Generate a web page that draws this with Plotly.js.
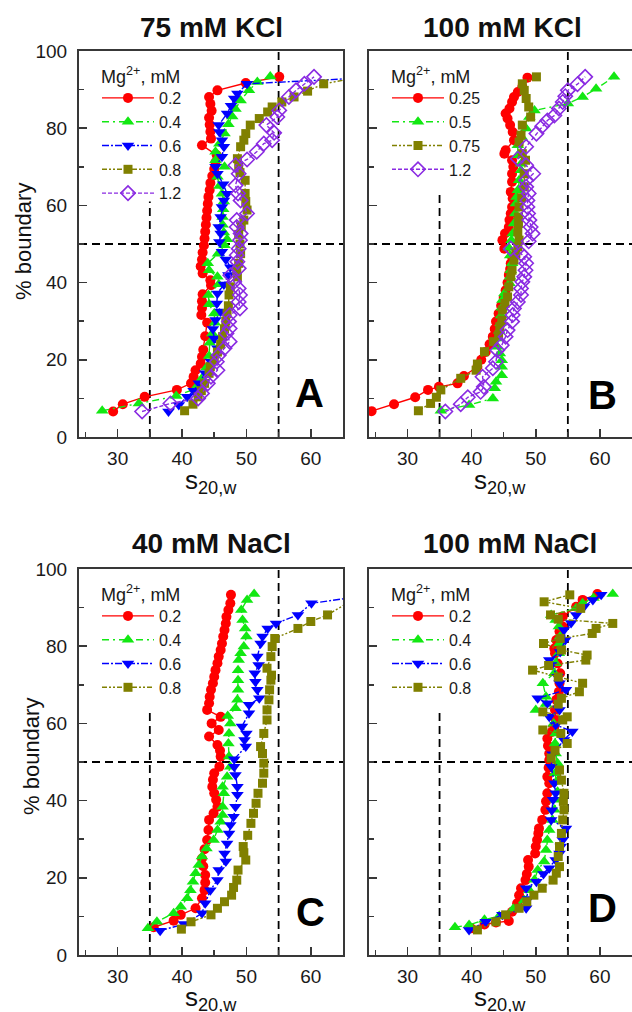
<!DOCTYPE html>
<html>
<head>
<meta charset="utf-8">
<script src="https://cdn.plot.ly/plotly-3.0.1.min.js"></script>
<style>html,body{margin:0;padding:0;background:#fff;}#chart{width:632px;height:1012px;}</style>
</head>
<body>
<div id="chart"></div>
<script>
// ---------- Panel A: 75 mM KCl ----------
const A_labels = ['0.2', '0.4', '0.6', '0.8', '1.2'];
const A_x_02 = [29.3,30.8,34.2,39.2,41.4,41.8,42.1,42.9,43.1,43.3,43.6,43.9,43.0,43.1,43.1,43.2,44.5,44.4,43.2,42.9,43.1,43.2,43.4,43.5,43.6,43.7,43.8,43.9,44.0,44.1,44.3,44.4,44.7,45.0,45.2,45.4,43.1,44.5,44.4,44.3,44.2,44.6,44.4,44.2,45.5,49.9,55.1];
const A_y_02 = [6.6,8.5,10.4,12.2,13.9,15.6,17.3,19.0,20.8,22.6,26.1,29.6,31.6,33.4,35.2,37.0,39.3,40.6,42.4,44.2,46.0,47.8,49.6,51.4,53.2,55.0,56.8,58.6,60.4,62.2,64.0,65.8,67.6,69.4,71.2,73.0,75.6,77.3,79.1,80.9,82.7,84.5,86.3,88.1,89.8,91.7,93.3];
const A_x_04 = [27.6,33.3,39.1,42.0,43.0,43.8,44.2,44.3,44.7,45.1,45.0,44.2,44.1,45.7,45.5,44.2,44.0,45.6,46.6,47.0,46.5,46.3,46.3,46.4,46.5,46.2,45.8,45.5,46.6,45.2,45.2,45.8,46.6,47.2,47.8,48.3,49.1,50.4,51.7,53.7];
const A_y_04 = [6.8,8.7,10.6,12.5,15.0,18.0,21.0,24.4,26.8,29.6,32.0,34.4,36.8,39.6,41.5,43.2,45.0,47.5,49.7,51.2,53.0,55.0,57.0,59.0,61.0,63.0,65.0,67.4,70.0,71.7,73.9,76.0,78.6,81.0,83.0,85.0,87.2,89.8,92.0,93.4];
const A_x_06 = [37.9,39.5,40.8,41.8,42.6,43.6,44.5,45.5,45.0,44.8,45.2,46.0,45.4,45.5,46.5,47.2,47.5,46.8,46.2,45.8,46.0,45.7,46.0,46.2,46.5,47.0,46.4,45.5,45.2,46.2,46.5,46.2,45.8,45.7,47.0,47.6,48.1,48.6,50.1,68.0];
const A_y_06 = [6.6,8.3,10.4,12.0,13.9,16.5,19.5,23.0,25.5,28.0,30.3,32.5,34.6,37.2,39.5,42.0,44.0,46.0,48.0,50.5,52.7,54.4,57.0,59.6,61.3,63.0,65.5,68.2,70.0,72.6,75.2,76.9,79.0,80.8,83.8,85.8,87.7,89.0,91.5,93.0];
const A_x_08 = [40.4,41.7,42.5,43.0,43.5,44.2,44.4,45.0,45.5,46.0,46.3,46.6,46.8,47.0,47.2,47.3,47.5,48.6,48.5,48.8,49.1,49.0,48.8,49.2,49.6,50.1,49.9,49.8,49.8,49.0,48.8,48.6,49.1,49.6,49.9,50.6,52.0,53.3,54.0,55.5,57.4,59.5,62.0,67.0];
const A_y_08 = [6.8,8.5,10.4,12.0,13.9,16.5,18.2,20.0,22.0,24.0,26.0,28.0,30.0,32.0,34.0,36.8,38.9,41.5,43.2,45.0,47.5,50.0,52.5,54.5,56.2,58.8,61.0,63.1,66.5,68.5,70.0,72.1,75.2,76.9,78.6,80.8,82.5,84.2,85.5,86.8,88.1,89.6,91.5,93.0];
const A_x_12 = [33.8,38.2,42.5,43.1,44.0,44.5,45.5,45.4,45.7,46.6,47.4,46.9,47.4,47.3,47.4,49.0,48.8,49.0,48.8,48.1,47.5,48.8,48.6,48.5,48.8,49.0,49.1,48.5,48.5,50.1,49.1,48.7,48.3,48.8,48.3,50.1,51.6,52.7,54.0,54.3,53.1,54.8,55.1,56.6,57.7,59.0,60.5];
const A_y_12 = [6.6,8.7,10.0,11.3,13.9,15.6,17.3,19.5,21.2,23.0,24.7,26.8,28.1,29.9,31.6,33.3,35.0,36.8,38.5,40.2,41.9,43.7,45.4,47.1,48.8,51.0,52.7,54.4,56.2,57.9,61.3,63.1,65.2,68.2,70.4,71.9,73.9,76.0,76.9,78.8,80.8,82.9,84.6,88.1,89.8,91.5,93.3];

// ---------- Panel B: 100 mM KCl ----------
const B_labels = ['0.25', '0.5', '0.75', '1.2'];
const B_x_025 = [24.4,27.9,31.2,33.2,34.9,37.8,38.8,40.9,41.5,42.2,42.8,43.3,43.6,43.8,44.2,44.6,45.0,45.3,45.6,45.8,46.0,46.1,46.3,45.1,44.8,45.2,45.8,45.9,46.1,46.3,46.4,46.1,46.3,46.3,46.5,46.3,45.1,45.3,46.6,46.4,46.0,45.6,45.3,45.9,46.3,46.6,47.2,47.9,48.7];
const B_y_025 = [6.7,8.5,10.3,12.2,13.0,13.9,15.8,18.2,20.0,22.0,24.0,26.0,28.0,29.9,32.0,34.0,36.0,38.0,40.0,42.0,43.5,45.0,46.7,48.8,51.0,52.7,54.4,56.2,57.9,59.6,61.8,63.5,66.1,68.2,70.0,71.7,73.4,74.3,76.9,79.0,80.8,82.5,83.8,85.1,86.8,88.1,89.4,90.7,93.1];
const B_x_05 = [35.2,39.6,43.3,43.6,43.8,44.7,44.7,44.7,44.4,44.0,44.2,44.3,44.5,44.6,44.7,44.8,45.1,45.9,46.0,46.1,46.3,46.0,45.8,46.2,46.4,46.6,46.8,46.9,47.0,47.2,47.4,47.7,47.7,47.2,47.2,47.8,48.5,49.0,49.8,55.0,57.3,59.4,62.2];
const B_y_05 = [6.8,8.3,10.0,12.6,14.3,16.0,18.2,19.9,21.6,23.4,25.5,27.5,29.5,31.5,33.5,35.5,37.2,39.8,41.5,43.2,45.0,47.0,49.0,51.0,52.7,55.3,57.9,60.5,62.2,63.9,66.5,69.1,70.8,73.0,75.6,77.7,79.9,82.9,84.6,86.4,88.1,90.2,93.3];
const B_x_075 = [31.7,33.6,34.5,35.2,38.3,40.7,40.9,42.0,43.4,44.2,44.4,44.7,44.8,45.2,45.6,45.8,46.1,46.3,46.6,46.9,47.2,47.4,47.2,47.3,47.3,47.4,47.8,48.2,48.2,48.4,47.9,47.4,47.7,47.9,49.2,48.9,48.5,48.2,47.9,50.1];
const B_y_075 = [6.8,8.7,10.3,12.2,15.2,17.3,18.9,22.1,24.7,26.4,28.6,30.3,32.9,34.6,36.3,38.9,41.5,43.2,45.8,47.5,49.3,51.0,53.1,55.3,57.0,59.6,62.0,64.8,68.2,71.7,73.4,76.4,78.2,80.8,82.9,85.5,87.7,89.8,91.5,93.3];
const B_x_12 = [35.9,38.3,39.4,41.4,41.9,41.7,43.3,43.8,44.0,44.7,45.3,45.6,46.3,46.4,46.6,47.2,47.7,47.7,47.9,48.2,48.4,48.5,48.2,47.7,46.1,48.9,49.5,49.2,49.0,48.8,48.7,48.7,48.9,48.5,48.5,49.6,48.5,47.2,48.5,50.1,51.0,51.8,52.9,53.6,54.2,54.6,55.0,56.5,57.7];
const B_y_12 = [6.6,8.5,10.3,11.7,13.0,15.6,17.8,19.5,22.5,23.8,26.0,27.7,29.9,31.6,33.3,35.0,36.8,38.5,40.2,41.5,43.2,45.0,46.7,47.5,48.8,50.7,52.7,54.4,56.2,57.9,59.6,61.3,63.1,64.8,66.5,68.2,70.4,72.1,75.2,78.6,80.5,82.0,83.3,85.1,86.8,88.3,89.8,91.4,93.3];

// ---------- Panel C: 40 mM NaCl ----------
const C_labels = ['0.2', '0.4', '0.6', '0.8'];
const C_x_02 = [35.6,38.7,39.8,42.1,43.1,43.5,43.6,43.6,43.3,43.1,43.5,43.9,44.1,44.2,44.9,45.5,45.3,45.0,44.7,44.8,45.0,45.8,46.0,45.9,45.5,44.2,45.7,44.6,46.0,43.9,44.2,44.3,44.5,44.8,45.0,45.2,45.5,45.7,46.0,46.2,46.4,46.6,46.8,46.9,47.2,47.5,47.6];
const C_y_02 = [7.2,8.9,10.4,12.1,14.7,16.8,18.8,20.7,23.0,25.0,27.4,29.8,32.4,35.0,36.7,38.4,40.2,41.9,43.6,45.4,47.1,48.8,51.4,53.0,54.4,56.6,58.3,60.0,61.7,63.5,65.2,66.9,68.7,70.4,72.1,73.8,75.6,77.3,79.0,80.7,82.5,84.2,85.9,87.6,89.4,91.1,93.3];
const C_x_04 = [34.7,36.1,38.7,39.8,40.8,41.3,41.7,42.1,42.6,43.1,43.8,44.9,45.5,46.0,46.3,46.3,46.5,46.3,47.0,47.5,47.3,47.2,47.3,47.5,47.1,48.3,48.6,48.7,48.7,48.7,48.8,49.1,49.6,50.0,49.8,49.4,49.2,50.1,51.2];
const C_y_04 = [6.9,8.6,10.8,12.5,14.7,16.8,19.0,21.2,23.3,25.5,27.6,29.8,32.4,34.5,36.3,38.4,41.9,43.6,46.2,48.8,51.4,54.8,57.4,60.0,61.9,63.9,66.1,68.7,71.2,73.8,76.4,78.2,79.9,82.5,84.6,86.8,89.4,92.0,93.5];
const C_x_06 = [36.6,40.3,43.1,43.6,44.4,45.5,45.7,46.8,46.6,47.0,47.3,47.5,48.0,48.3,48.6,48.6,48.3,48.1,48.1,49.9,49.7,50.0,49.3,50.4,50.4,52.0,51.7,51.4,51.3,51.9,51.7,52.2,52.5,53.3,54.6,58.0,60.1,66.0];
const C_y_06 = [6.3,8.0,10.8,13.4,16.8,19.4,22.0,24.2,26.3,28.9,31.5,33.7,35.8,38.4,41.5,43.6,46.6,48.8,50.7,54.0,55.7,57.4,59.2,62.6,64.8,66.5,68.7,70.8,73.0,75.1,77.3,80.7,82.5,84.6,85.9,88.1,91.1,92.5];
const C_x_08 = [39.9,41.4,44.5,45.5,46.6,47.7,48.0,48.5,48.7,49.9,49.6,49.5,50.2,50.7,51.1,51.5,51.8,52.5,52.7,52.7,52.5,52.2,52.7,53.2,53.2,53.5,53.6,53.8,53.9,53.2,53.8,54.0,54.4,58.0,60.0,62.6,66.0];
const C_y_08 = [6.7,8.6,10.4,12.1,13.8,15.5,17.5,19.4,22.0,24.6,26.5,28.1,31.0,34.1,36.7,39.3,41.9,44.5,47.1,49.7,52.2,54.0,57.4,60.9,63.5,66.1,68.7,71.2,72.5,74.3,77.3,79.9,82.0,84.6,86.4,88.1,91.5];

// ---------- Panel D: 100 mM NaCl ----------
const D_labels = ['0.2', '0.4', '0.6', '0.8'];
const D_x_02 = [39.9,42.0,43.8,45.8,46.3,47.1,47.4,47.7,48.4,48.6,48.9,48.8,49.9,50.0,50.2,50.4,50.5,51.0,51.5,51.6,51.8,52.1,51.8,52.0,52.1,52.1,51.9,51.8,52.5,52.9,53.1,53.0,53.2,53.6,53.7,53.8,53.4,53.0,52.9,53.2,53.7,54.2,54.2,56.3,57.3,59.6];
const D_y_02 = [6.9,7.9,8.4,8.8,11.2,13.4,15.5,17.3,19.4,21.0,22.9,24.6,26.3,28.1,29.8,31.5,32.8,35.0,37.6,39.8,41.9,44.5,46.2,48.5,50.5,52.2,54.2,56.1,57.8,59.2,60.9,63.5,66.1,68.2,70.4,73.0,75.5,78.2,79.4,81.6,83.8,85.1,87.7,90.2,92.0,93.5];
const D_x_04 = [37.4,39.6,42.0,44.3,46.5,48.2,49.0,49.8,50.3,51.3,51.6,51.8,52.1,52.6,52.9,53.1,53.4,53.2,53.0,53.4,53.1,53.0,53.1,52.8,50.0,51.6,51.6,51.1,52.9,53.1,53.6,53.7,53.8,53.6,53.1,52.4,56.3,57.3,59.0,62.0];
const D_y_04 = [7.2,7.8,9.1,10.1,12.0,14.2,16.8,19.5,22.0,24.2,27.2,29.8,32.4,35.0,37.6,40.2,42.3,44.9,47.1,49.7,52.2,54.8,57.4,60.0,63.5,65.0,66.9,70.4,73.0,75.6,78.2,80.7,82.5,85.1,86.8,88.1,89.8,91.1,92.5,93.5];
const D_x_06 = [39.6,42.2,44.8,48.5,48.8,48.5,50.1,51.2,52.1,53.1,53.7,53.9,54.2,54.7,52.4,52.5,52.7,53.1,52.9,52.4,52.6,54.4,55.7,53.1,52.1,53.7,51.8,50.3,54.7,53.7,53.4,52.4,52.1,53.8,54.6,54.4,55.5,56.3,57.5,58.9,60.2];
const D_y_06 = [6.5,8.6,10.4,12.1,14.5,17.3,19.0,21.0,22.5,24.6,26.3,28.1,29.8,32.8,35.0,37.5,40.2,41.9,44.5,48.8,52.0,55.7,57.9,59.6,61.7,63.5,65.2,66.5,68.7,70.4,72.1,75.1,76.4,78.5,81.6,84.2,86.0,88.1,90.2,92.0,93.3];
const D_x_08 = [40.9,43.8,45.3,47.4,48.6,49.7,51.0,52.7,53.2,53.7,53.5,53.7,54.0,54.2,54.4,54.3,54.4,54.0,53.7,52.4,53.0,54.9,53.9,51.1,54.2,54.9,51.1,53.5,54.0,56.8,57.3,53.5,49.5,52.0,57.8,58.0,54.0,51.2,53.8,58.8,59.4,62.0,53.5,52.3,57.0,51.3,55.3];
const D_y_08 = [6.5,8.6,10.4,12.1,13.8,15.5,17.3,19.4,21.2,22.9,25.5,28.1,31.5,35.0,37.6,39.8,41.9,45.3,47.9,51.0,53.0,54.8,57.4,58.3,60.9,61.7,63.0,65.0,66.5,68.2,70.4,72.0,73.8,75.0,76.4,77.7,79.0,80.7,82.0,83.3,84.6,85.9,87.0,88.1,89.8,91.5,93.3];

// ---------- Text ----------
const panelTitles = ['75 mM KCl', '100 mM KCl', '40 mM NaCl', '100 mM NaCl'];
const panelLetters = ['A', 'B', 'C', 'D'];
const legendTitle = 'Mg<sup>2+</sup>, mM';
const xTitle = 's<sub>20,w</sub>';
const yTitle = '% boundary';
const xRange = [24, 65];
const yRange = [0, 100];
const refVertical = [35, 55];
const refHorizontal = 50;

// ---------- Styles ----------
const FONT = 'Arial, "Liberation Sans", sans-serif';
const ST = {
  red:    {color:'#ff0000', symbol:'circle', size:10, dash:'solid', open:false},
  green:  {color:'#12e812', symbol:'triangle-up', size:11, dash:'7px,4px,2px,4px', open:false},
  blue:   {color:'#0000ff', symbol:'triangle-down', size:11, dash:'7px,2px,2px,2px', open:false},
  olive:  {color:'#808000', symbol:'square', size:9, dash:'5px,2px,2px,2px,2px,2px', open:false},
  purple: {color:'#8a2be2', symbol:'diamond-open', size:11, dash:'4px,2px', open:true}
};

function mk(x, y, name, st, n) {
  const sfx = n === 1 ? '' : String(n);
  return {
    type:'scatter', mode:'lines+markers', x:x, y:y, name:name,
    xaxis:'x' + sfx, yaxis:'y' + sfx, legend:'legend' + sfx,
    line:{color:st.color, width:1.4, dash:st.dash},
    marker:{color:st.color, symbol:st.symbol, size:st.size,
            line:{color:st.color, width: st.open ? 1.6 : 0}},
    cliponaxis:true
  };
}

const traces = [
  mk(A_x_02, A_y_02, A_labels[0], ST.red, 1),
  mk(A_x_04, A_y_04, A_labels[1], ST.green, 1),
  mk(A_x_06, A_y_06, A_labels[2], ST.blue, 1),
  mk(A_x_08, A_y_08, A_labels[3], ST.olive, 1),
  mk(A_x_12, A_y_12, A_labels[4], ST.purple, 1),
  mk(B_x_025, B_y_025, B_labels[0], ST.red, 2),
  mk(B_x_05, B_y_05, B_labels[1], ST.green, 2),
  mk(B_x_075, B_y_075, B_labels[2], ST.olive, 2),
  mk(B_x_12, B_y_12, B_labels[3], ST.purple, 2),
  mk(C_x_02, C_y_02, C_labels[0], ST.red, 3),
  mk(C_x_04, C_y_04, C_labels[1], ST.green, 3),
  mk(C_x_06, C_y_06, C_labels[2], ST.blue, 3),
  mk(C_x_08, C_y_08, C_labels[3], ST.olive, 3),
  mk(D_x_02, D_y_02, D_labels[0], ST.red, 4),
  mk(D_x_04, D_y_04, D_labels[1], ST.green, 4),
  mk(D_x_06, D_y_06, D_labels[2], ST.blue, 4),
  mk(D_x_08, D_y_08, D_labels[3], ST.olive, 4)
];

const W = 632, H = 1012;
// pixel boxes of the four plot areas [left, right, top, bottom]
const boxes = [[79,343,51,437],[369,632,51,437],[79,343,569,955],[369,632,569,955]];
const AX = '#383838';

const layout = {
  width:W, height:H, margin:{l:0,r:0,t:0,b:0},
  paper_bgcolor:'#fff', plot_bgcolor:'#fff', showlegend:true,
  font:{family:FONT, color:'#1a1a1a'},
  shapes:[], annotations:[]
};

boxes.forEach((b, i) => {
  const n = i + 1, sfx = n === 1 ? '' : String(n);
  const leftCol = (i % 2 === 0);
  layout['xaxis' + sfx] = {
    domain:[b[0]/W, b[1]/W], range:xRange, anchor:'y' + sfx,
    showline:true, mirror:true, linecolor:AX, linewidth:2,
    ticks:'inside', ticklen:8, tickwidth:1.5, tickcolor:AX,
    tick0:0, dtick:10, showgrid:false, zeroline:false,
    minor:{ticks:'inside', ticklen:5, tickwidth:1.5, tickcolor:AX, dtick:5, showgrid:false},
    tickfont:{family:FONT, size:19, color:'#1a1a1a'}, ticklabelstandoff:3, fixedrange:true
  };
  layout['yaxis' + sfx] = {
    domain:[1 - b[3]/H, 1 - b[2]/H], range:yRange, anchor:'x' + sfx,
    showline:true, mirror:leftCol, linecolor:AX, linewidth:2,
    ticks:'inside', ticklen:8, tickwidth:1.5, tickcolor:AX,
    tick0:0, dtick:20, showgrid:false, zeroline:false,
    minor:{ticks:'inside', ticklen:5, tickwidth:1.5, tickcolor:AX, dtick:10, showgrid:false},
    showticklabels:leftCol,
    tickfont:{family:FONT, size:19, color:'#1a1a1a'}, ticklabelstandoff:6, fixedrange:true
  };
  // legend (entries only; its heading is an annotation placed just above)
  layout['legend' + sfx] = {
    x:(b[0] + 18)/W, y:1 - (b[2] + 30)/H, xanchor:'left', yanchor:'top',
    bgcolor:'rgba(0,0,0,0)', borderwidth:0, itemwidth:52, tracegroupgap:0,
    font:{family:FONT, size:16, color:'#1a1a1a'}
  };
  layout.annotations.push({text:legendTitle, xref:'paper', yref:'paper',
    x:(b[0] + 20)/W, y:1 - (b[2] + 24)/H, xanchor:'left', yanchor:'middle', showarrow:false,
    font:{family:FONT, size:18, color:'#1a1a1a'}});
  // dashed reference lines
  const dashLine = {color:'#000', width:1.8, dash:'8px,5px'};
  const topOf35 = (i === 0) ? 61 : 64;
  layout.shapes.push({type:'line', xref:'x'+sfx, yref:'y'+sfx, x0:refVertical[0], x1:refVertical[0], y0:yRange[0], y1:topOf35, line:dashLine, layer:'below'});
  layout.shapes.push({type:'line', xref:'x'+sfx, yref:'y'+sfx, x0:refVertical[1], x1:refVertical[1], y0:yRange[0], y1:yRange[1], line:dashLine, layer:'below'});
  layout.shapes.push({type:'line', xref:'x'+sfx, yref:'y'+sfx, x0:xRange[0], x1:xRange[1], y0:refHorizontal, y1:refHorizontal, line:dashLine, layer:'below'});
});

// panel titles
const titlePos = [[211,28],[502,28],[211,543],[510,543]];
titlePos.forEach((p, i) => {
  layout.annotations.push({text:'<b>' + panelTitles[i] + '</b>', xref:'paper', yref:'paper',
    x:p[0]/W, y:1 - p[1]/H, xanchor:'center', yanchor:'middle', showarrow:false,
    font:{family:FONT, size:28, color:'#111'}});
});
// panel letters
const letterPos = [[309,393],[602,395],[310,912],[602,908]];
letterPos.forEach((p, i) => {
  layout.annotations.push({text:'<b>' + panelLetters[i] + '</b>', xref:'paper', yref:'paper',
    x:p[0]/W, y:1 - p[1]/H, xanchor:'center', yanchor:'middle', showarrow:false,
    font:{family:FONT, size:40, color:'#000'}});
});
// x-axis titles
const xTitlePos = [[211,481],[500,481],[211,998],[500,998]];
xTitlePos.forEach(p => {
  layout.annotations.push({text:xTitle, xref:'paper', yref:'paper',
    x:p[0]/W, y:1 - p[1]/H, xanchor:'center', yanchor:'middle', showarrow:false,
    font:{family:FONT, size:26, color:'#111'}});
});
// y-axis titles
const yTitlePos = [[24,242],[31,757]];
yTitlePos.forEach(p => {
  layout.annotations.push({text:yTitle, xref:'paper', yref:'paper', textangle:-90,
    x:p[0]/W, y:1 - p[1]/H, xanchor:'center', yanchor:'middle', showarrow:false,
    font:{family:FONT, size:22, color:'#111'}});
});

Plotly.newPlot('chart', traces, layout, {staticPlot:true, displayModeBar:false});
</script>
</body>
</html>
